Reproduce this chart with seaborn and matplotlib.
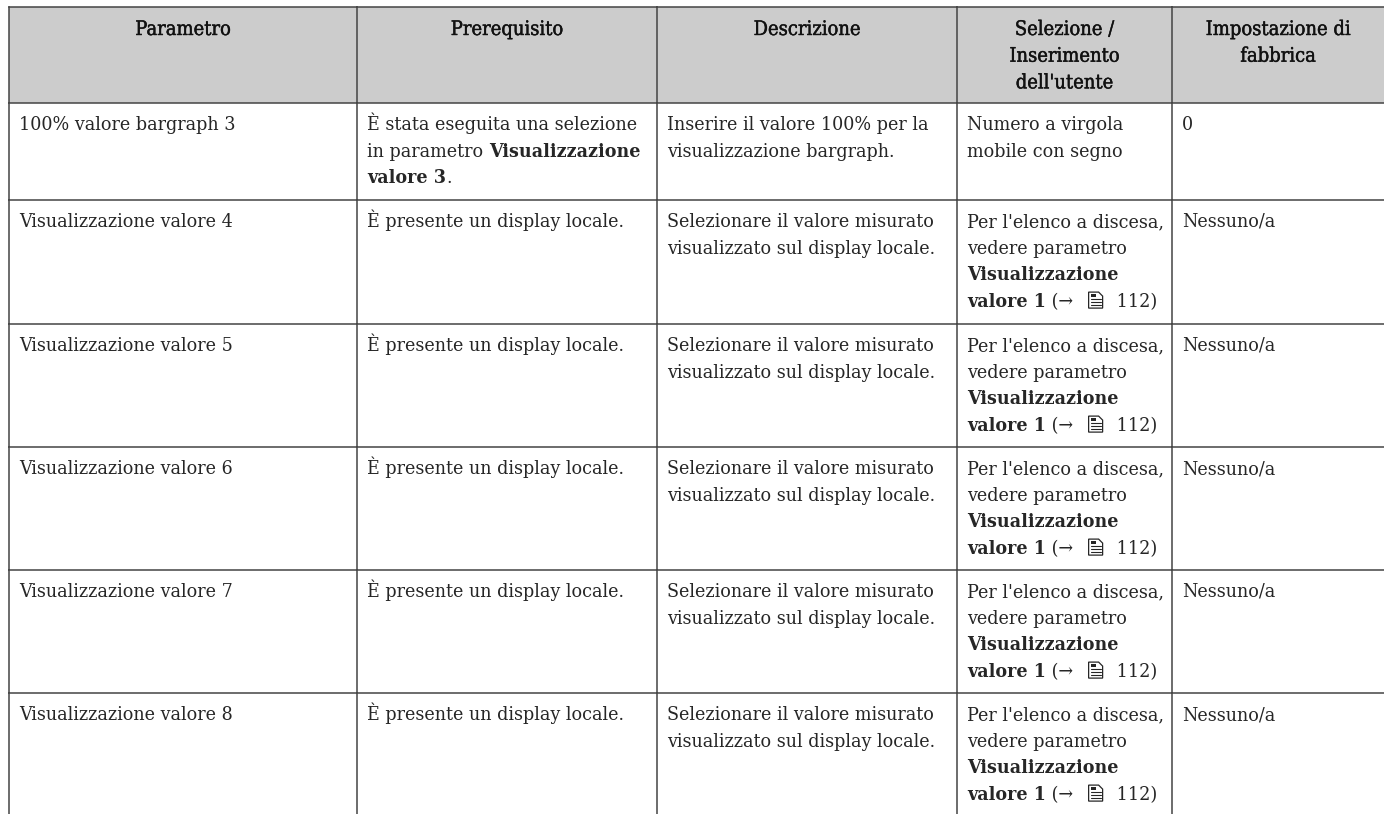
import re
import matplotlib
matplotlib.use("Agg")
import matplotlib.pyplot as plt
import matplotlib.patheffects as pe
from matplotlib.colors import ListedColormap
from matplotlib.patches import Polygon, Rectangle
import pandas as pd
import seaborn as sns

# table text, **x** marks a bold run, {doc} is the little page icon
header = [
    ["Parametro"],
    ["Prerequisito"],
    ["Descrizione"],
    ["Selezione /", "Inserimento", "dell'utente"],
    ["Impostazione di", "fabbrica"],
]
param = ["100% valore bargraph 3", "Visualizzazione valore 4", "Visualizzazione valore 5",
         "Visualizzazione valore 6", "Visualizzazione valore 7", "Visualizzazione valore 8"]
prereq_first = ["È stata eseguita una selezione", "in parametro **Visualizzazione**", "**valore 3**."]
prereq_rest = ["È presente un display locale."]
descr_first = ["Inserire il valore 100% per la", "visualizzazione bargraph."]
descr_rest = ["Selezionare il valore misurato", "visualizzato sul display locale."]
input_first = ["Numero a virgola", "mobile con segno"]
input_rest = ["Per l'elenco a discesa,", "vedere parametro", "**Visualizzazione**",
              "**valore 1** (→ {doc} 112)"]
factory_first = ["0"]
factory_rest = ["Nessuno/a"]

# layout, pixels from the top left of the picture
W, H = 1384, 814
col_x = [9, 357, 657, 957, 1172, W]
row_y = [7, 103, 200, 324, 447, 570, 693, H]
pad = 10
line_h = 26.7
first_base = 27
size = 14.0
head_size = 14.4
ink = "#262626"
rule = "#444444"
grey = ListedColormap(["#cccccc", "#ffffff"])

sns.set_theme(style="white")
plt.rcParams["font.family"] = ["DejaVu Serif"]
plt.rcParams["font.stretch"] = "condensed"

fig = plt.figure(figsize=(W / 100, H / 100), dpi=100)


def cell_axes(c, r):
    x0, x1 = col_x[c], col_x[c + 1]
    y0, y1 = row_y[r], row_y[r + 1]
    ax = fig.add_axes([x0 / W, 1 - y1 / H, (x1 - x0) / W, (y1 - y0) / H])
    sns.heatmap(pd.DataFrame([[0 if r == 0 else 1]]), vmin=0, vmax=1, cmap=grey, cbar=False,
                xticklabels=False, yticklabels=False, ax=ax)
    for name, spine in ax.spines.items():
        spine.set_visible(name in ("left", "top"))
        spine.set_color(rule)
        spine.set_linewidth(1.1)
    return ax


for r in range(len(row_y) - 1):
    for c in range(len(col_x) - 1):
        cell_axes(c, r)

ov = fig.add_axes([0, 0, 1, 1], facecolor="none")
ov.set_xlim(0, W)
ov.set_ylim(H, 0)
ov.axis("off")
rend = fig.canvas.get_renderer()


def text_w(s, weight):
    # the dot keeps trailing spaces in the measure
    a = ov.text(0, 0, s + ".", fontsize=size, fontweight=weight)
    b = ov.text(0, 0, ".", fontsize=size, fontweight=weight)
    w = a.get_window_extent(rend).width - b.get_window_extent(rend).width
    a.remove()
    b.remove()
    return w


def draw_doc(x, base):
    top = base - 15
    ov.add_patch(Polygon([(x, top), (x + 10, top), (x + 14, top + 4), (x + 14, base + 1), (x, base + 1)],
                         closed=True, fc="white", ec=ink, lw=0.9))
    ov.add_patch(Rectangle((x + 2, top + 2), 5, 3, fc=ink, ec="none"))
    for dy in (7, 10, 13):
        ov.plot([x + 2, x + 12], [top + dy] * 2, color=ink, lw=0.8)


def draw_line(x, base, line):
    for part in re.split(r"(\*\*.*?\*\*|\{doc\})", line):
        if not part:
            continue
        if part == "{doc}":
            draw_doc(x + 10, base)
            x += 32
            continue
        weight = "normal"
        if part.startswith("**"):
            part = part[2:-2]
            weight = "bold"
        ov.text(x, base, part, fontsize=size, fontweight=weight, color=ink, va="baseline", ha="left")
        x += text_w(part, weight)


def draw_cell(c, r, lines):
    for i, line in enumerate(lines):
        draw_line(col_x[c] + pad, row_y[r] + first_base + i * line_h, line)


for c, lines in enumerate(header):
    mid = (col_x[c] + col_x[c + 1]) / 2
    for i, line in enumerate(lines):
        ov.text(mid, row_y[0] + first_base + 1 + i * line_h, line, fontsize=head_size, color="#111111",
                ha="center", va="baseline",
                path_effects=[pe.withStroke(linewidth=0.3, foreground="#111111")])

draw_cell(0, 1, [param[0]])
draw_cell(1, 1, prereq_first)
draw_cell(2, 1, descr_first)
draw_cell(3, 1, input_first)
draw_cell(4, 1, factory_first)
for n in range(1, len(param)):
    r = n + 1
    draw_cell(0, r, [param[n]])
    draw_cell(1, r, prereq_rest)
    draw_cell(2, r, descr_rest)
    draw_cell(3, r, input_rest)
    draw_cell(4, r, factory_rest)

fig.savefig("out.png", dpi=100, facecolor="white")
